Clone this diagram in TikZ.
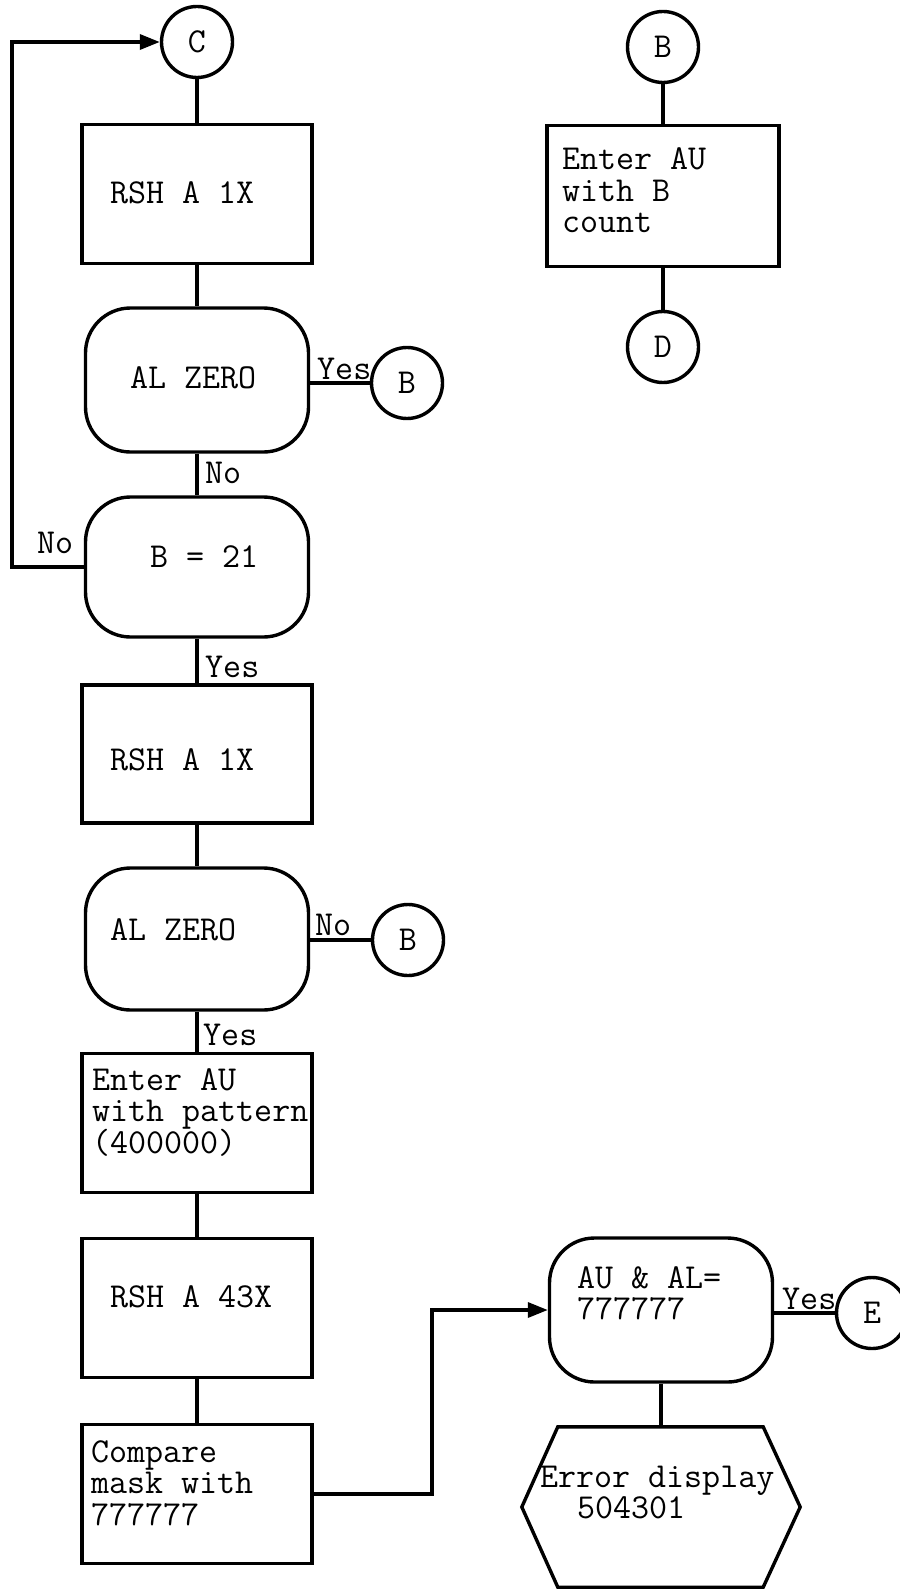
\documentclass[tikz,border=0pt]{standalone}
\usepackage{fontspec}
\usetikzlibrary{arrows.meta}
\newcommand\tb[3]{\raisebox{#2}[0pt][0pt]{\makebox[0pt][l]{\hspace*{#1}\vtop{\lineskiplimit=-100pt\lineskip=0pt\baselineskip=31.5pt #3}}}}
\begin{document}
\begin{tikzpicture}[x=1pt,y=-1pt,
  lw/.style={line width=3.4pt},
  every node/.style={font=\ttfamily\fontsize{35}{31.5}\selectfont, inner sep=0pt},
  proc/.style={draw, lw, rectangle, minimum width=230pt, minimum height=139pt},
  dec/.style={draw, lw, rectangle, rounded corners=45pt, minimum width=223pt, minimum height=142pt},
  conn/.style={draw, lw, circle, minimum size=71pt},
  lab/.style={anchor=base west},
  arr/.style={lw, -{Triangle[length=20pt,width=15pt]}}]
\fill[white] (0,0) rectangle (899,1589);
\useasboundingbox (0,0) rectangle (899,1589);
% main column
\node[conn] (C) at (197,42) {C};
\node[proc] (p1) at (197,194) {\tb{-87pt}{-10pt}{\hbox{RSH A 1X}}};
\node[dec,minimum height=144pt] (d1) at (197,380) {\tb{-67pt}{-8pt}{\hbox{AL ZERO}}};
\node[conn] (B1) at (407,383) {B};
\node[lab] (y1) at (317,379) {Yes};
\node[lab] (n1) at (205,483) {No};
\node[dec,minimum height=140pt] (d2) at (197,567) {\tb{-47pt}{0pt}{\hbox{B = 21}}};
\node[lab] (n2) at (37,553) {No};
\node[lab] (y2) at (205,677) {Yes};
\node[proc,minimum height=138pt] (p2) at (197,754) {\tb{-87pt}{-16pt}{\hbox{RSH A 1X}}};
\node[dec] (d3) at (197,939) {\tb{-87pt}{-1pt}{\hbox{AL ZERO}}};
\node[lab] (n3) at (315,935) {No};
\node[conn] (B2) at (408,940) {B};
\node[lab] (y3) at (203,1045) {Yes};
\node[proc] (p3) at (197,1123) {\tb{-105pt}{33pt}{\hbox{Enter AU}\hbox{with pattern}\hbox{(400000)}}};
\node[proc] (p4) at (197,1308) {\tb{-87pt}{1pt}{\hbox{RSH A 43X}}};
\node[proc] (p5) at (197,1494) {\tb{-106pt}{32pt}{\hbox{Compare}\hbox{mask with}\hbox{777777}}};
% lower right
\node[dec,minimum height=144pt] (d4) at (661,1310) {\tb{-84pt}{22pt}{\hbox{AU \& AL=}\hbox{777777}}};
\node[lab] (y4) at (782,1309) {Yes};
\node[conn] (E) at (872,1313) {E};
\node[minimum width=278pt, minimum height=160pt] (hx) at (661,1507) {\tb{-121pt}{20pt}{\hbox{Error display}\hbox{\hspace*{37pt}504301}}};
\draw[lw] ([xshift=36pt]hx.north west) -- ([xshift=-37pt]hx.north east) -- (hx.east)
  -- ([xshift=-37pt]hx.south east) -- ([xshift=36pt]hx.south west) -- (hx.west) -- cycle;
% right column
\node[conn] (RB) at (663,47) {B};
\node[proc,minimum width=232pt,minimum height=141pt] (rp) at (663,196) {\tb{-101pt}{26pt}{\hbox{Enter AU}\hbox{with B}\hbox{count}}};
\node[conn] (D) at (663,347) {D};
% connectors
\draw[lw] (C) -- (p1);
\draw[lw] (p1) -- (d1);
\draw[lw] (d1) -- (d2);
\draw[lw] (d2) -- (p2);
\draw[lw] (p2) -- (d3);
\draw[lw] (d3) -- (p3);
\draw[lw] (p3) -- (p4);
\draw[lw] (p4) -- (p5);
\draw[lw] (d1.east |- B1) -- (B1);
\draw[lw] (d3.east |- B2) -- (B2);
\draw[lw] (d4.east |- E) -- (E);
\draw[lw] (d4) -- (hx);
\draw[lw] (RB) -- (rp);
\draw[lw] (rp) -- (D);
\coordinate (lx) at (12,0);
\draw[arr] (d2.west) -- (d2.west -| lx) |- (C.west);
\coordinate (mx) at (432,0);
\draw[arr] (p5.east) -| (mx |- d4.west) -- (d4.west);
\end{tikzpicture}
\end{document}
